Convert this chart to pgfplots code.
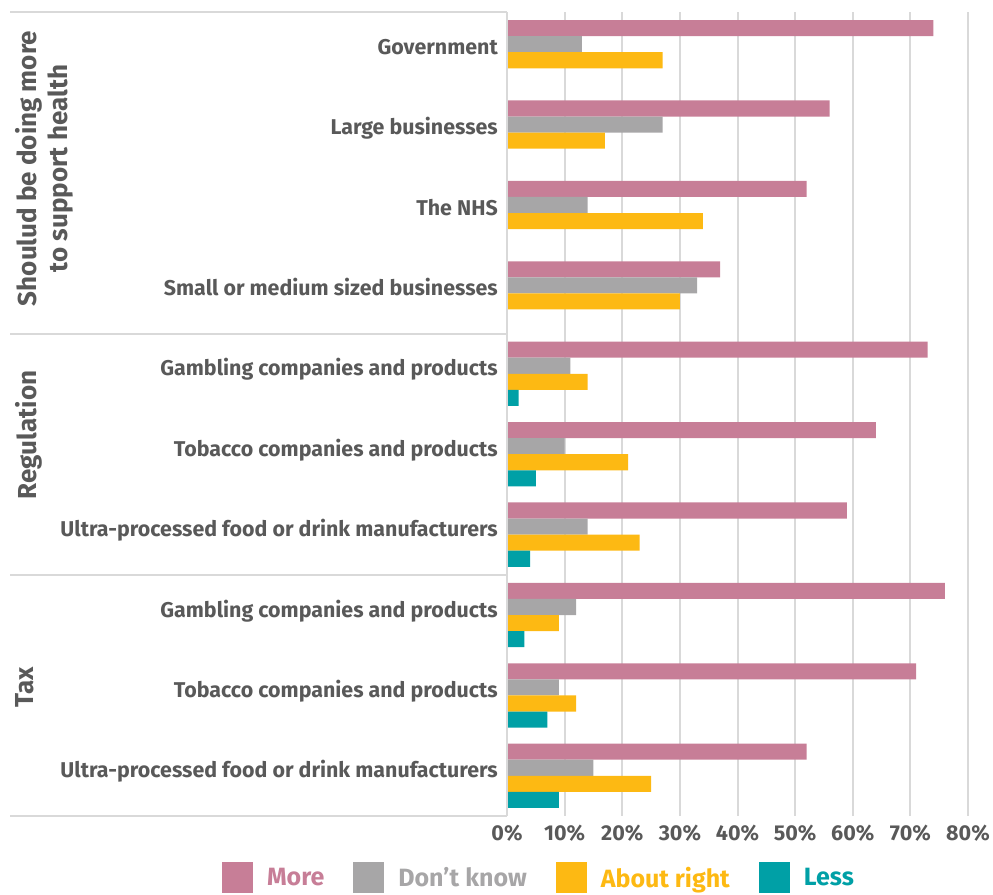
\documentclass[border=0pt]{standalone}
\usepackage{pgfplots}
\pgfplotsset{compat=1.18}
\usepackage{fontspec}
\setmainfont{Fira Sans}
\definecolor{more}{HTML}{C77E97}
\definecolor{dk}{HTML}{A7A6A7}
\definecolor{ar}{HTML}{FDB913}
\definecolor{less}{HTML}{00A0A6}
\definecolor{textc}{HTML}{595959}
\definecolor{gridc}{HTML}{D9D9D9}
\begin{document}
\begin{tikzpicture}
\begin{axis}[
  at={(507pt,-12pt)}, anchor=north west,
  scale only axis, width=461pt, height=804pt,
  xmin=0, xmax=80, ymin=-0.5, ymax=9.5, y dir=reverse,
  xbar, bar width=0.2,
  xtick={0,10,20,30,40,50,60,70,80},
  xticklabels={0\%,10\%,20\%,30\%,40\%,50\%,60\%,70\%,80\%},
  ytick={0,1,2,3,4,5,6,7,8,9},
  yticklabels={Government,Large businesses,The NHS,Small or medium sized businesses,Gambling companies and products,Tobacco companies and products,Ultra-processed food or drink manufacturers,Gambling companies and products,Tobacco companies and products,Ultra-processed food or drink manufacturers},
  xmajorgrids, grid style={color=gridc, line width=2pt},
  axis line style={draw=none},
  major tick length=0pt,
  yticklabel style={font=\fontsize{21.4}{25}\selectfont\bfseries, text=textc, anchor=base east, inner sep=0pt, xshift=-9pt, yshift=-2pt},
  xticklabel style={font=\fontsize{21.5}{25}\selectfont\bfseries, text=textc, anchor=base, inner sep=0pt, yshift=-24pt},
  legend columns=4,
  legend style={at={(axis description cs:-0.6182,-0.0577)}, anchor=north west,
    draw=none, fill=none, inner sep=0pt, outer sep=0pt,
    font=\fontsize{25}{29}\selectfont\bfseries,
    nodes={inner sep=0pt},
    /tikz/every even column/.append style={column sep=29pt},
    /tikz/every odd column/.append style={column sep=14pt}},
  legend image code/.code={\fill[#1, draw=none] (0pt,-15.5pt) rectangle (31pt,15.5pt);},
]
\addplot[fill=more, draw=none, bar shift=-0.3] coordinates {
 (74,0) (56,1) (52,2) (37,3) (73,4) (64,5) (59,6) (76,7) (71,8) (52,9)};
\addlegendentry{\textcolor{more}{More}}
\addplot[fill=dk, draw=none, bar shift=-0.1] coordinates {
 (13,0) (27,1) (14,2) (33,3) (11,4) (10,5) (14,6) (12,7) (9,8) (15,9)};
\addlegendentry{\textcolor{dk}{Don’t know}}
\addplot[fill=ar, draw=none, bar shift=0.1] coordinates {
 (27,0) (17,1) (34,2) (30,3) (14,4) (21,5) (23,6) (9,7) (12,8) (25,9)};
\addlegendentry{\textcolor{ar}{About right}}
\addplot[fill=less, draw=none, bar shift=0.3] coordinates {
 (2,4) (5,5) (4,6) (3,7) (7,8) (9,9)};
\addlegendentry{\textcolor{less}{Less}}
\end{axis}
\draw[gridc, line width=2pt] (507pt,-12pt) -- (507pt,-816pt);
\draw[gridc, line width=2pt] (10pt,-12pt) -- (507pt,-12pt);
\draw[gridc, line width=2pt] (10pt,-333.6pt) -- (507pt,-333.6pt);
\draw[gridc, line width=2pt] (10pt,-574.8pt) -- (507pt,-574.8pt);
\draw[gridc, line width=2pt] (10pt,-816pt) -- (507pt,-816pt);
\node[rotate=90, anchor=north, inner sep=0pt, align=center, font=\fontsize{26}{31}\selectfont\bfseries, text=textc] at (15pt,-168.5pt) {Shoulud be doing more\\to support health};
\node[rotate=90, anchor=north, inner sep=0pt, font=\fontsize{26}{31}\selectfont\bfseries, text=textc] at (15pt,-435pt) {Regulation};
\node[rotate=90, anchor=north, inner sep=0pt, font=\fontsize{26}{31}\selectfont\bfseries, text=textc] at (15pt,-687pt) {Tax};
\pgfresetboundingbox
\path[use as bounding box] (0,0) rectangle (993pt,-894pt);
\end{tikzpicture}
\end{document}
